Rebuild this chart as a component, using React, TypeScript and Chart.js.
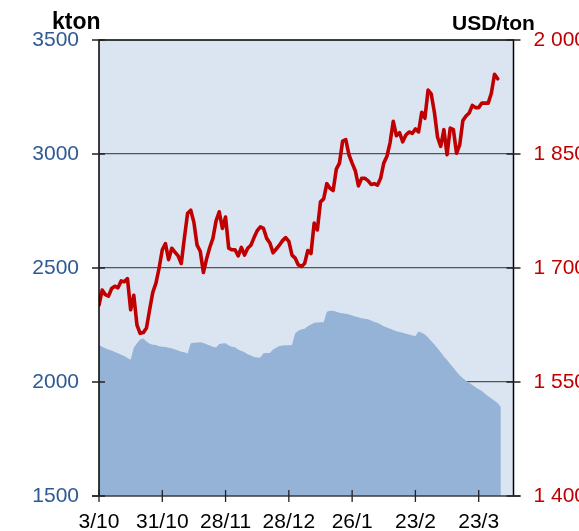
import React, { useEffect, useRef } from "react";
import { Chart, registerables } from "chart.js";

Chart.register(...registerables);

// ---- data ----
const xTickIndex = [0, 20, 40, 60, 80, 100, 120];
const xTickLabels = ["3/10", "31/10", "28/11", "28/12", "26/1", "23/2", "23/3"];

const stockTickLabels = ["1500", "2000", "2500", "3000", "3500"];
const priceTickLabels = ["1 400", "1 550", "1 700", "1 850", "2 000"];

// Inventory (kton), left axis, one value per trading day
const stockKton = [
  2162, 2155, 2148, 2143, 2138, 2132, 2126, 2120, 2114, 2105,
  2098, 2150, 2170, 2186, 2191, 2178, 2168, 2163, 2162, 2157,
  2155, 2153, 2150, 2148, 2143, 2138, 2133, 2130, 2125, 2170,
  2172, 2173, 2174, 2171, 2166, 2160, 2155, 2151, 2167, 2169,
  2170, 2160, 2155, 2152, 2142, 2136, 2130, 2122, 2116, 2110,
  2108, 2108, 2126, 2127, 2127, 2143, 2150, 2158, 2160, 2161,
  2161, 2162, 2214, 2225, 2231, 2234, 2245, 2252, 2260, 2261,
  2262, 2262, 2308, 2313, 2312, 2308, 2304, 2302, 2299, 2296,
  2292, 2287, 2284, 2280, 2277, 2275, 2270, 2263, 2260, 2252,
  2245, 2239, 2234, 2228, 2223, 2219, 2216, 2212, 2208, 2204,
  2202, 2221, 2216, 2208, 2195, 2180, 2165, 2148, 2130, 2112,
  2096, 2079, 2062, 2045, 2030, 2016, 2006, 1997, 1987, 1977,
  1968, 1960, 1948, 1938, 1928, 1918, 1908, 1890,
];

// Price (USD/ton), right axis
const priceUsd = [
  1651, 1671, 1665, 1663, 1673, 1676, 1674, 1683, 1682, 1686,
  1645, 1664, 1625, 1614, 1615, 1621, 1645, 1668, 1680, 1700,
  1724, 1732, 1711, 1726, 1721, 1716, 1706, 1740, 1772, 1776,
  1760, 1730, 1722, 1694, 1712, 1727, 1739, 1762, 1774, 1752,
  1767, 1726, 1724, 1724, 1716, 1727, 1717, 1726, 1730, 1740,
  1749, 1754, 1752, 1739, 1733, 1720, 1725, 1730, 1736, 1740,
  1735, 1717, 1713, 1704, 1702, 1706, 1723, 1719, 1759, 1750,
  1787, 1791, 1811, 1805, 1802, 1830, 1838, 1867, 1869, 1849,
  1838, 1828, 1808, 1818, 1818, 1815, 1810, 1811, 1809, 1818,
  1838, 1847, 1865, 1893, 1874, 1878, 1866, 1875, 1879, 1877,
  1883, 1879, 1905, 1897, 1934, 1929, 1905, 1872, 1860, 1882,
  1849, 1884, 1882, 1851, 1862, 1894, 1900, 1904, 1914, 1911,
  1911, 1917, 1917, 1917, 1930, 1955, 1949,
];

const X_MAX = 131;
const FONT = '"Liberation Sans", Arial, sans-serif';

const BG = "#dbe5f1";
const AREA = "#95b3d7";
const RED = "#c00000";
const BLUE = "#2e5a94";

const framePlugin = {
  id: "frame",
  beforeDraw(chart: any) {
    const { ctx, chartArea: a } = chart;
    ctx.save();
    ctx.fillStyle = BG;
    ctx.fillRect(a.left, a.top, a.right - a.left, a.bottom - a.top);
    ctx.restore();
  },
  afterDraw(chart: any) {
    const { ctx, chartArea: a, scales } = chart;
    ctx.save();
    // frame
    ctx.strokeStyle = "#000";
    ctx.lineWidth = 1.5;
    ctx.beginPath();
    ctx.moveTo(a.left, a.bottom);
    ctx.lineTo(a.left, a.top);
    ctx.lineTo(a.right, a.top);
    ctx.lineTo(a.right, a.bottom);
    ctx.stroke();
    // bottom axis
    ctx.strokeStyle = "#3a3a3a";
    ctx.beginPath();
    ctx.moveTo(a.left - 7, a.bottom);
    ctx.lineTo(a.right + 7, a.bottom);
    ctx.stroke();
    // tick marks
    ctx.strokeStyle = "#222";
    ctx.lineWidth = 1.3;
    ctx.beginPath();
    scales.y.ticks.forEach((t: any) => {
      const y = scales.y.getPixelForValue(t.value);
      ctx.moveTo(a.left - 7, y);
      ctx.lineTo(a.left + 6, y);
    });
    scales.y1.ticks.forEach((t: any) => {
      const y = scales.y1.getPixelForValue(t.value);
      ctx.moveTo(a.right - 7, y);
      ctx.lineTo(a.right + 7, y);
    });
    scales.x.ticks.forEach((t: any) => {
      const x = scales.x.getPixelForValue(t.value);
      ctx.moveTo(x, a.bottom - 6);
      ctx.lineTo(x, a.bottom + 6);
    });
    ctx.stroke();
    // unit titles
    ctx.fillStyle = "#000";
    ctx.textBaseline = "alphabetic";
    ctx.textAlign = "left";
    ctx.font = `bold 23px ${FONT}`;
    ctx.fillText("kton", 52, 28.5);
    ctx.font = `bold 21px ${FONT}`;
    ctx.fillText("USD/ton", 452, 29.5);
    ctx.restore();
  },
};

export default function App() {
  const ref = useRef<HTMLCanvasElement | null>(null);

  useEffect(() => {
    if (!ref.current) return;
    const chart = new Chart(ref.current, {
      type: "line",
      data: {
        datasets: [
          {
            label: "Price",
            data: priceUsd.map((v, i) => ({ x: i, y: v })),
            yAxisID: "y1",
            borderColor: RED,
            borderWidth: 3.6,
            borderJoinStyle: "round",
            borderCapStyle: "round",
            pointRadius: 0,
            tension: 0,
            fill: false,
            order: 0,
          },
          {
            label: "Stock",
            data: stockKton.map((v, i) => ({ x: i, y: v })),
            yAxisID: "y",
            borderColor: AREA,
            backgroundColor: AREA,
            borderWidth: 0,
            pointRadius: 0,
            tension: 0,
            fill: "start",
            order: 1,
          },
        ],
      },
      options: {
        animation: false,
        responsive: false,
        devicePixelRatio: 1,
        layout: { padding: { top: 40, left: 0, right: 0, bottom: 0 } },
        plugins: {
          legend: { display: false },
          tooltip: { enabled: false },
        },
        scales: {
          x: {
            type: "linear",
            min: 0,
            max: X_MAX,
            afterBuildTicks: (scale: any) => {
              scale.ticks = xTickIndex.map((v) => ({ value: v }));
            },
            afterFit: (scale: any) => {
              scale.height = 35;
            },
            grid: { display: false, drawTicks: false },
            border: { display: false },
            ticks: {
              autoSkip: false,
              maxRotation: 0,
              padding: 14,
              color: "#000",
              font: { family: FONT, size: 21 },
              callback: (v: any) => xTickLabels[xTickIndex.indexOf(Number(v))] ?? "",
            },
          },
          y: {
            position: "left",
            min: 1500,
            max: 3500,
            afterBuildTicks: (scale: any) => {
              scale.ticks = stockTickLabels.map((l) => ({ value: Number(l) }));
            },
            afterFit: (scale: any) => {
              scale.width = 99;
            },
            grid: {
              drawTicks: false,
              color: (c: any) =>
                c.tick && (c.tick.value === 1500 || c.tick.value === 3500) ? "rgba(0,0,0,0)" : "#555555",
              lineWidth: 1.2,
            },
            border: { display: false },
            ticks: {
              padding: 20,
              color: BLUE,
              font: { family: FONT, size: 21 },
              callback: (_v: any, i: number) => stockTickLabels[i],
            },
          },
          y1: {
            position: "right",
            min: 1400,
            max: 2000,
            afterBuildTicks: (scale: any) => {
              scale.ticks = priceTickLabels.map((l) => ({ value: Number(l.replace(" ", "")) }));
            },
            afterFit: (scale: any) => {
              scale.width = 65.5;
            },
            grid: { display: false, drawTicks: false },
            border: { display: false },
            ticks: {
              padding: 20,
              color: RED,
              font: { family: FONT, size: 21 },
              callback: (_v: any, i: number) => priceTickLabels[i],
            },
          },
        },
      },
      plugins: [framePlugin],
    } as any);
    return () => chart.destroy();
  }, []);

  return (
    <div style={{ position: "fixed", left: 0, top: 0, width: 579, height: 531, background: "#fff" }}>
      <canvas ref={ref} width={579} height={531} style={{ display: "block" }} />
    </div>
  );
}
